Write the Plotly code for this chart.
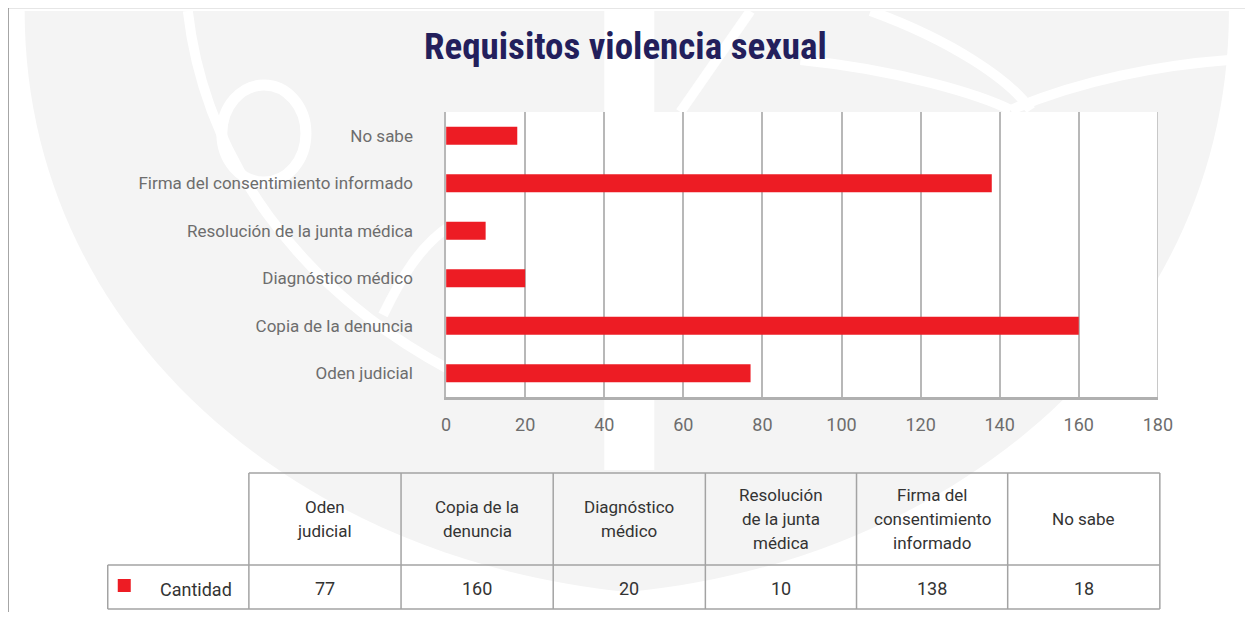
import plotly.graph_objects as go

# page has an 8px body margin
OX, OY = 8, 8
W, H = 1253, 604
# horizontal calibration of the photographed page (measured from earlier renders)
CAL_S, CAL_B = 0.983, 5.5

# ---- data ----
categories = ["Oden judicial", "Copia de la denuncia", "Diagnóstico médico",
              "Resolución de la junta médica", "Firma del consentimiento informado", "No sabe"]
values = [77, 160, 20, 10, 138, 18]
table_headers = ["Oden<br>judicial", "Copia de la<br>denuncia", "Diagnóstico<br>médico",
                 "Resolución<br>de la junta<br>médica", "Firma del<br>consentimiento<br>informado", "No sabe"]
series_name = "Cantidad"
x_ticks = [0, 20, 40, 60, 80, 100, 120, 140, 160, 180]
title_text = "Requisitos violencia sexual"

FONT = "Roboto, Liberation Sans, Arial, sans-serif"
RED = "#ed1c24"
GRID = "#b8b8b8"
TXT = "#6d6d6d"
DARK = "#333333"
WM = "#f4f4f4"


def px(x):
    return ((x - CAL_B) / CAL_S - OX) / W


def py(y):
    return 1 - (y - OY) / H


def path(cmds):
    out = []
    for c in cmds:
        if isinstance(c, str):
            out.append(c)
        else:
            out.append(f"{px(c[0]):.5f},{py(c[1]):.5f}")
    return " ".join(out)


fig = go.Figure()
fig.add_trace(go.Bar(
    y=categories, x=values, orientation="h", name=series_name,
    marker=dict(color=RED, line=dict(width=0)), width=0.38,
    hoverinfo="x+y",
))

shapes = []
# watermark shield
shapes.append(dict(type="path", xref="paper", yref="paper", layer="below",
                   path=path(["M", (25, 11), "L", (1228, 11), "C", (1228, 330), (960, 560), (628, 592),
                              "C", (296, 560), (25, 330), (25, 11), "Z"]),
                   fillcolor=WM, line=dict(width=0)))
# white vertical band of the logo
shapes.append(dict(type="rect", xref="paper", yref="paper", layer="below",
                   x0=px(604), x1=px(654), y0=py(470), y1=py(11),
                   fillcolor="white", line=dict(width=0)))
# white decorative strokes of the watermark logo
white_strokes = [
    ["M", (188, 11), "C", (205, 160), (300, 290), (450, 370)],
    ["M", (383, 315), "C", (400, 280), (420, 245), (450, 226)],
    ["M", (750, 11), "L", (680, 112)],
    ["M", (870, 11), "C", (950, 40), (1010, 80), (1030, 110)],
    ["M", (800, 60), "C", (900, 70), (980, 95), (1010, 110)],
    ["M", (1010, 110), "C", (1080, 80), (1160, 65), (1228, 60)],
]
for s in white_strokes:
    shapes.append(dict(type="path", xref="paper", yref="paper", layer="below",
                       path=path(s), line=dict(color="white", width=10)))
shapes.append(dict(type="circle", xref="paper", yref="paper", layer="below",
                   x0=px(222), x1=px(306), y0=py(85), y1=py(182),
                   line=dict(color="white", width=11)))
# white plot background
shapes.append(dict(type="rect", xref="paper", yref="paper", layer="below",
                   x0=px(446), x1=px(1157), y0=py(397), y1=py(112),
                   fillcolor="white", line=dict(width=0)))
# right border at 180
shapes.append(dict(type="line", xref="x", yref="paper", x0=180, x1=180,
                   y0=py(397), y1=py(112), line=dict(color=GRID, width=1.5)))
# outer frame
shapes.append(dict(type="line", xref="paper", yref="paper", x0=px(8), x1=1, y0=py(7.5), y1=py(7.5),
                   line=dict(color="#9a9a9a", width=1.5)))
shapes.append(dict(type="line", xref="paper", yref="paper", x0=px(8.5), x1=px(8.5), y0=py(7), y1=0,
                   line=dict(color="#9a9a9a", width=1.5)))

# table
col_x = [249, 401, 553, 705, 856, 1007, 1159]
t_top, t_mid, t_bot = 473, 565, 609
LC = "#a3a3a3"
tl = []
tl.append(((249, t_top), (1159, t_top)))
tl.append(((108, t_mid), (1159, t_mid)))
tl.append(((108, t_bot), (1159, t_bot)))
tl.append(((108, t_mid), (108, t_bot)))
for cx in col_x:
    tl.append(((cx, t_top), (cx, t_bot)))
for (a, b) in tl:
    shapes.append(dict(type="line", xref="paper", yref="paper",
                       x0=px(a[0]), y0=py(a[1]), x1=px(b[0]), y1=py(b[1]),
                       line=dict(color=LC, width=1.5)))
# legend square
shapes.append(dict(type="rect", xref="paper", yref="paper",
                   x0=px(118), x1=px(131), y0=py(592), y1=py(579),
                   fillcolor=RED, line=dict(width=0)))

annotations = []
annotations.append(dict(text=f"<b>{title_text}</b>", xref="paper", yref="paper",
                        x=px(625), y=py(47), showarrow=False, xanchor="center", yanchor="middle",
                        font=dict(family="Roboto Condensed, Roboto, sans-serif", size=37, color="#231f5c")))
hdr_mid = (t_top + t_mid) / 2
for i, h in enumerate(table_headers):
    lines = h.split("<br>")
    n = len(lines)
    cx = (col_x[i] + col_x[i + 1]) / 2
    for j, ln in enumerate(lines):
        yy = hdr_mid + (j - (n - 1) / 2) * 24
        annotations.append(dict(text=ln, xref="paper", yref="paper", x=px(cx), y=py(yy),
                                showarrow=False, xanchor="center", yanchor="middle",
                                font=dict(family=FONT, size=17, color=DARK)))
    annotations.append(dict(text=str(values[i]), xref="paper", yref="paper", x=px(cx),
                            y=py((t_mid + t_bot) / 2 + 1), showarrow=False,
                            xanchor="center", yanchor="middle",
                            font=dict(family=FONT, size=18, color=DARK)))
annotations.append(dict(text=series_name, xref="paper", yref="paper", x=px(158), y=py(589),
                        showarrow=False, xanchor="left", yanchor="middle",
                        font=dict(family=FONT, size=18, color=DARK)))

fig.update_layout(
    width=W, height=H,
    margin=dict(l=0, r=0, t=0, b=0),
    paper_bgcolor="white",
    plot_bgcolor="rgba(0,0,0,0)",
    showlegend=False,
    bargap=0.6,
    shapes=shapes,
    annotations=annotations,
    font=dict(family=FONT, color=TXT),
    xaxis=dict(domain=[px(446), px(1157)], range=[0, 180], tickvals=x_ticks,
               showgrid=True, gridcolor=GRID, gridwidth=1.5, zeroline=False,
               showline=True, linecolor="#b0b0b0", linewidth=2.5,
               ticks="", tickfont=dict(size=18, color=TXT), ticklabelstandoff=10,
               fixedrange=True),
    yaxis=dict(domain=[py(397), py(112)], range=[-0.5, 5.5], type="category",
               showgrid=False, zeroline=False, showline=True, linecolor=GRID, linewidth=1.5,
               ticks="", tickfont=dict(size=17, color=TXT), ticklabelstandoff=28,
               fixedrange=True),
)

fig.write_html("out.html")
